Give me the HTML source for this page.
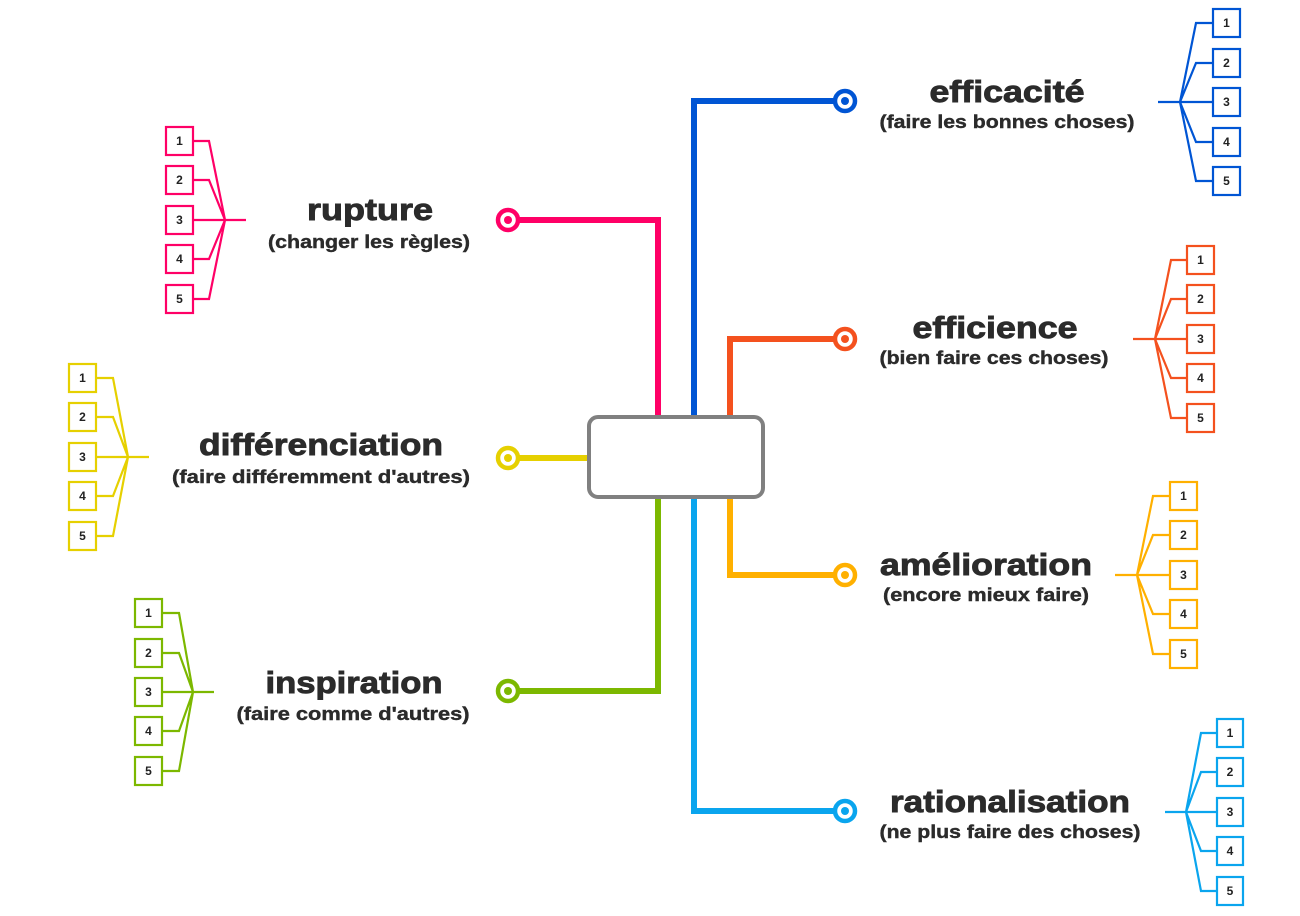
<!DOCTYPE html>
<html><head><meta charset="utf-8"><style>
html,body{margin:0;padding:0;background:#fff;width:1300px;height:916px;overflow:hidden}
svg{display:block}
.t{font-family:"Liberation Sans",sans-serif;font-weight:bold;fill:#2b2b2b;text-anchor:middle;stroke:#2b2b2b;stroke-width:0.9}
.t .s{stroke-width:0.4}
.n{font-family:"Liberation Sans",sans-serif;font-weight:bold;font-size:12px;fill:#222;text-anchor:middle}
</style></head><body>
<svg width="1300" height="916" viewBox="0 0 1300 916">
<g fill="none" stroke-width="6">
<path d="M518 220H658V416" stroke="#ff0066"/>
<path d="M694 416V101H835" stroke="#0055d4"/>
<path d="M730 416V339H835" stroke="#f4511e"/>
<path d="M518 458H590" stroke="#e6d000"/>
<path d="M658 497V691H518" stroke="#7cb800"/>
<path d="M694 497V811H835" stroke="#0aa5ee"/>
<path d="M730 497V575H835" stroke="#ffb000"/>
</g>
<rect x="589" y="417" width="174" height="80" rx="9" fill="#fff" stroke="#808080" stroke-width="4"/>
<g stroke-width="4.5" fill="#fff">
<circle cx="508" cy="220" r="10" stroke="#ff0066"/><circle cx="508" cy="220" r="4" fill="#ff0066" stroke="none"/>
<circle cx="508" cy="458" r="10" stroke="#e6d000"/><circle cx="508" cy="458" r="4" fill="#e6d000" stroke="none"/>
<circle cx="508" cy="691" r="10" stroke="#7cb800"/><circle cx="508" cy="691" r="4" fill="#7cb800" stroke="none"/>
<circle cx="845" cy="101" r="10" stroke="#0055d4"/><circle cx="845" cy="101" r="4" fill="#0055d4" stroke="none"/>
<circle cx="845" cy="339" r="10" stroke="#f4511e"/><circle cx="845" cy="339" r="4" fill="#f4511e" stroke="none"/>
<circle cx="845" cy="575" r="10" stroke="#ffb000"/><circle cx="845" cy="575" r="4" fill="#ffb000" stroke="none"/>
<circle cx="845" cy="811" r="10" stroke="#0aa5ee"/><circle cx="845" cy="811" r="4" fill="#0aa5ee" stroke="none"/>
</g>

<g fill="none" stroke="#0055d4" stroke-width="2.2">
<path d="M1158 102H1180M1180 102L1196 23H1213M1180 102L1196 63H1213M1180 102H1213M1180 102L1196 142H1213M1180 102L1196 181H1213"/>
<rect x="1213" y="9" width="27" height="28" fill="#fff"/><rect x="1213" y="49" width="27" height="28" fill="#fff"/><rect x="1213" y="88" width="27" height="28" fill="#fff"/><rect x="1213" y="128" width="27" height="28" fill="#fff"/><rect x="1213" y="167" width="27" height="28" fill="#fff"/>
</g>
<g class="n"><text x="1226.5" y="27">1</text><text x="1226.5" y="67">2</text><text x="1226.5" y="106">3</text><text x="1226.5" y="146">4</text><text x="1226.5" y="185">5</text></g>

<g fill="none" stroke="#f4511e" stroke-width="2.2">
<path d="M1133 339H1155M1155 339L1171 260H1187M1155 339L1171 299H1187M1155 339H1187M1155 339L1171 378H1187M1155 339L1171 418H1187"/>
<rect x="1187" y="246" width="27" height="28" fill="#fff"/><rect x="1187" y="285" width="27" height="28" fill="#fff"/><rect x="1187" y="325" width="27" height="28" fill="#fff"/><rect x="1187" y="364" width="27" height="28" fill="#fff"/><rect x="1187" y="404" width="27" height="28" fill="#fff"/>
</g>
<g class="n"><text x="1200.5" y="264">1</text><text x="1200.5" y="303">2</text><text x="1200.5" y="343">3</text><text x="1200.5" y="382">4</text><text x="1200.5" y="422">5</text></g>

<g fill="none" stroke="#ffb000" stroke-width="2.2">
<path d="M1115 575H1137M1137 575L1153 496H1170M1137 575L1153 535H1170M1137 575H1170M1137 575L1153 614H1170M1137 575L1153 654H1170"/>
<rect x="1170" y="482" width="27" height="28" fill="#fff"/><rect x="1170" y="521" width="27" height="28" fill="#fff"/><rect x="1170" y="561" width="27" height="28" fill="#fff"/><rect x="1170" y="600" width="27" height="28" fill="#fff"/><rect x="1170" y="640" width="27" height="28" fill="#fff"/>
</g>
<g class="n"><text x="1183.5" y="500">1</text><text x="1183.5" y="539">2</text><text x="1183.5" y="579">3</text><text x="1183.5" y="618">4</text><text x="1183.5" y="658">5</text></g>

<g fill="none" stroke="#0aa5ee" stroke-width="2.2">
<path d="M1165 812H1186M1186 812L1201 733H1217M1186 812L1201 772H1217M1186 812H1217M1186 812L1201 851H1217M1186 812L1201 891H1217"/>
<rect x="1217" y="719" width="26" height="28" fill="#fff"/><rect x="1217" y="758" width="26" height="28" fill="#fff"/><rect x="1217" y="798" width="26" height="28" fill="#fff"/><rect x="1217" y="837" width="26" height="28" fill="#fff"/><rect x="1217" y="877" width="26" height="28" fill="#fff"/>
</g>
<g class="n"><text x="1230" y="737">1</text><text x="1230" y="776">2</text><text x="1230" y="816">3</text><text x="1230" y="855">4</text><text x="1230" y="895">5</text></g>

<g fill="none" stroke="#ff0066" stroke-width="2.2">
<path d="M246 220H225M225 220L209 141H193M225 220L209 180H193M225 220H193M225 220L209 259H193M225 220L209 299H193"/>
<rect x="166" y="127" width="27" height="28" fill="#fff"/><rect x="166" y="166" width="27" height="28" fill="#fff"/><rect x="166" y="206" width="27" height="28" fill="#fff"/><rect x="166" y="245" width="27" height="28" fill="#fff"/><rect x="166" y="285" width="27" height="28" fill="#fff"/>
</g>
<g class="n"><text x="179.5" y="145">1</text><text x="179.5" y="184">2</text><text x="179.5" y="224">3</text><text x="179.5" y="263">4</text><text x="179.5" y="303">5</text></g>

<g fill="none" stroke="#e6d000" stroke-width="2.2">
<path d="M149 457H128M128 457L113 378H96M128 457L113 417H96M128 457H96M128 457L113 496H96M128 457L113 536H96"/>
<rect x="69" y="364" width="27" height="28" fill="#fff"/><rect x="69" y="403" width="27" height="28" fill="#fff"/><rect x="69" y="443" width="27" height="28" fill="#fff"/><rect x="69" y="482" width="27" height="28" fill="#fff"/><rect x="69" y="522" width="27" height="28" fill="#fff"/>
</g>
<g class="n"><text x="82.5" y="382">1</text><text x="82.5" y="421">2</text><text x="82.5" y="461">3</text><text x="82.5" y="500">4</text><text x="82.5" y="540">5</text></g>

<g fill="none" stroke="#7cb800" stroke-width="2.2">
<path d="M214 692H193M193 692L179 613H162M193 692L179 653H162M193 692H162M193 692L179 731H162M193 692L179 771H162"/>
<rect x="135" y="599" width="27" height="28" fill="#fff"/><rect x="135" y="639" width="27" height="28" fill="#fff"/><rect x="135" y="678" width="27" height="28" fill="#fff"/><rect x="135" y="717" width="27" height="28" fill="#fff"/><rect x="135" y="757" width="27" height="28" fill="#fff"/>
</g>
<g class="n"><text x="148.5" y="617">1</text><text x="148.5" y="657">2</text><text x="148.5" y="696">3</text><text x="148.5" y="735">4</text><text x="148.5" y="775">5</text></g>

<g class="t">
<text x="370" y="220" font-size="31" textLength="126" lengthAdjust="spacingAndGlyphs">rupture</text>
<text class="s" x="369" y="248" font-size="18" textLength="202" lengthAdjust="spacingAndGlyphs">(changer les règles)</text>
<text x="321" y="455" font-size="31" textLength="244" lengthAdjust="spacingAndGlyphs">différenciation</text>
<text class="s" x="321" y="483" font-size="18" textLength="298" lengthAdjust="spacingAndGlyphs">(faire différemment d'autres)</text>
<text x="354" y="693" font-size="31" textLength="177" lengthAdjust="spacingAndGlyphs">inspiration</text>
<text class="s" x="353" y="720" font-size="18" textLength="233" lengthAdjust="spacingAndGlyphs">(faire comme d'autres)</text>
<text x="1007" y="102" font-size="31" textLength="155" lengthAdjust="spacingAndGlyphs">efficacité</text>
<text class="s" x="1007" y="128" font-size="18" textLength="255" lengthAdjust="spacingAndGlyphs">(faire les bonnes choses)</text>
<text x="995" y="338" font-size="31" textLength="165" lengthAdjust="spacingAndGlyphs">efficience</text>
<text class="s" x="994" y="364" font-size="18" textLength="229" lengthAdjust="spacingAndGlyphs">(bien faire ces choses)</text>
<text x="986" y="575" font-size="31" textLength="212" lengthAdjust="spacingAndGlyphs">amélioration</text>
<text class="s" x="986" y="601" font-size="18" textLength="206" lengthAdjust="spacingAndGlyphs">(encore mieux faire)</text>
<text x="1010" y="812" font-size="31" textLength="240" lengthAdjust="spacingAndGlyphs">rationalisation</text>
<text class="s" x="1010" y="838" font-size="18" textLength="261" lengthAdjust="spacingAndGlyphs">(ne plus faire des choses)</text>
</g>
</svg>
</body></html>
